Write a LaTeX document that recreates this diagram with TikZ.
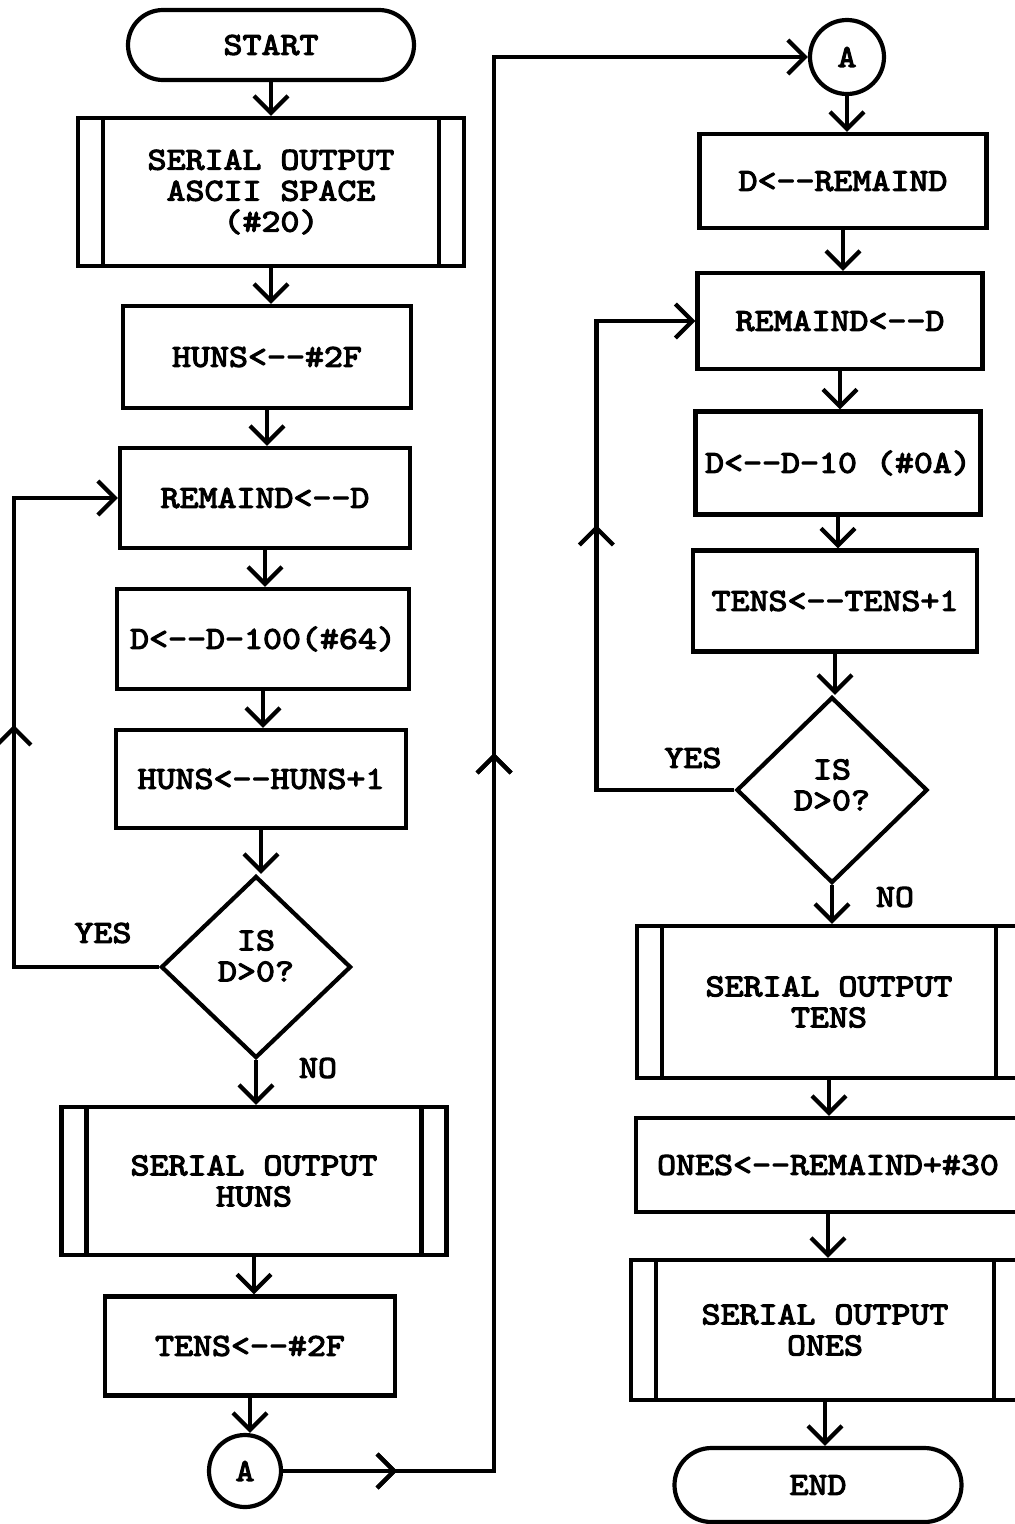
\documentclass[tikz,border=0pt]{standalone}
\usetikzlibrary{shapes.geometric,shapes.misc,arrows.meta,decorations.markings}
\font\flowfont="[lmmono10-regular]:embolden=3.5;extend=1.13" at 32pt
\newcommand\flowtext{\fontsize{32}{31}\selectfont\flowfont}
\tikzset{
  lw/.style={line width=4.2pt},
  txt/.style={font=\flowtext, align=center, inner sep=0pt},
  proc/.style={txt, draw, lw, rectangle},
  sub/.style={proc, path picture={
      \draw[lw] ([xshift=25pt]path picture bounding box.north west) -- ([xshift=25pt]path picture bounding box.south west);
      \draw[lw] ([xshift=-25pt]path picture bounding box.north east) -- ([xshift=-25pt]path picture bounding box.south east);}},
  term/.style={txt, draw, lw, rounded rectangle},
  dec/.style={draw, lw, diamond, inner sep=0pt},
  conn/.style={txt, draw, lw, circle, minimum size=74pt},
  flow/.style={lw, -{Straight Barb[length=17pt,width=34pt]}},
  midarrow/.style={postaction={decorate}, decoration={markings, mark=at position #1 with {\arrow[lw]{Straight Barb[length=17pt,width=34pt]}}}},
  lbl/.style={txt}
}
\begin{document}
\begin{tikzpicture}[x=1pt,y=-1pt]
\useasboundingbox (0,0) rectangle (1015,1524);
% left column
\node[term, minimum width=286pt, minimum height=70pt] (start) at (271,45) {START};
\node[sub, minimum width=386pt, minimum height=148pt] (s1) at (271,192) {SERIAL OUTPUT\\ASCII SPACE\\(\#20)};
\node[proc, minimum width=288pt, minimum height=102pt] (p1) at (267,357) {HUNS<-{}-\#2F};
\node[proc, minimum width=290pt, minimum height=100pt] (p2) at (265,498) {REMAIND<-{}-D};
\node[proc, minimum width=292pt, minimum height=100pt] (p3) at (263,639) {D<-{}-D-100(\#64)};
\node[proc, minimum width=290pt, minimum height=98pt] (p4) at (261,779) {HUNS<-{}-HUNS+1};
\node[dec, minimum width=190pt, minimum height=182pt] (d1) at (256,967) {};
\node[txt] (d1t) at ([yshift=11pt]d1.center) {IS\\D>0?};
\node[sub, minimum width=385pt, minimum height=148pt] (s2) at (254,1181) {SERIAL OUTPUT\\HUNS};
\node[proc, minimum width=290pt, minimum height=99pt] (p5) at (250,1346) {TENS<-{}-\#2F};
\node[conn, minimum size=72pt] (a1) at (245,1471) {A};
% right column
\node[conn] (a2) at (847,57) {A};
\node[proc, minimum width=287pt, minimum height=94pt] (q1) at (843,181) {D<-{}-REMAIND};
\node[proc, minimum width=285pt, minimum height=96pt] (q2) at (840,321) {REMAIND<-{}-D};
\node[proc, minimum width=285pt, minimum height=103pt] (q3) at (838,463) {D<-{}-D-10 (\#0A)};
\node[proc, minimum width=284pt, minimum height=101pt] (q4) at (835,601) {TENS<-{}-TENS+1};
\node[dec, minimum width=191pt, minimum height=186pt] (d2) at (832,790) {};
\node[txt] (d2t) at ([yshift=5pt]d2.center) {IS\\D>0?};
\node[sub, minimum width=384pt, minimum height=152pt] (s3) at (829,1002) {SERIAL OUTPUT\\TENS};
\node[proc, minimum width=384pt, minimum height=94pt] (q5) at (828,1165) {ONES<-{}-REMAIND+\#30};
\node[sub, minimum width=388pt, minimum height=140pt] (s4) at (825,1330) {SERIAL OUTPUT\\ONES};
\node[term, minimum width=287pt, minimum height=74pt] (end) at (818,1485) {END};
% labels
\node[lbl] (y1) at (103,933) {YES};
\node[lbl] (n1) at (318,1068) {NO};
\node[lbl] (y2) at (693,758) {YES};
\node[lbl] (n2) at (895,897) {NO};
% straight connectors
\foreach \a/\b in {start/s1,s1/p1,p1/p2,p2/p3,p3/p4,p4/d1,d1/s2,s2/p5,p5/a1,a2/q1,q1/q2,q2/q3,q3/q4,q4/d2,d2/s3,s3/q5,q5/s4,s4/end}
  \draw[flow] (\a.south) -- (\a.south |- \b.north);
% loops
\draw[flow, midarrow=387pt] (d1.west) -- ++(-145,0) |- (p2.west);
\draw[flow, midarrow=403pt] (d2.west) -- ++(-138,0) |- (q2.west);
% off-page connector A to A
\draw[flow, midarrow=114pt, midarrow=929pt] (a1.east) -- ++(211,0) |- (a2.west);
\end{tikzpicture}
\end{document}
